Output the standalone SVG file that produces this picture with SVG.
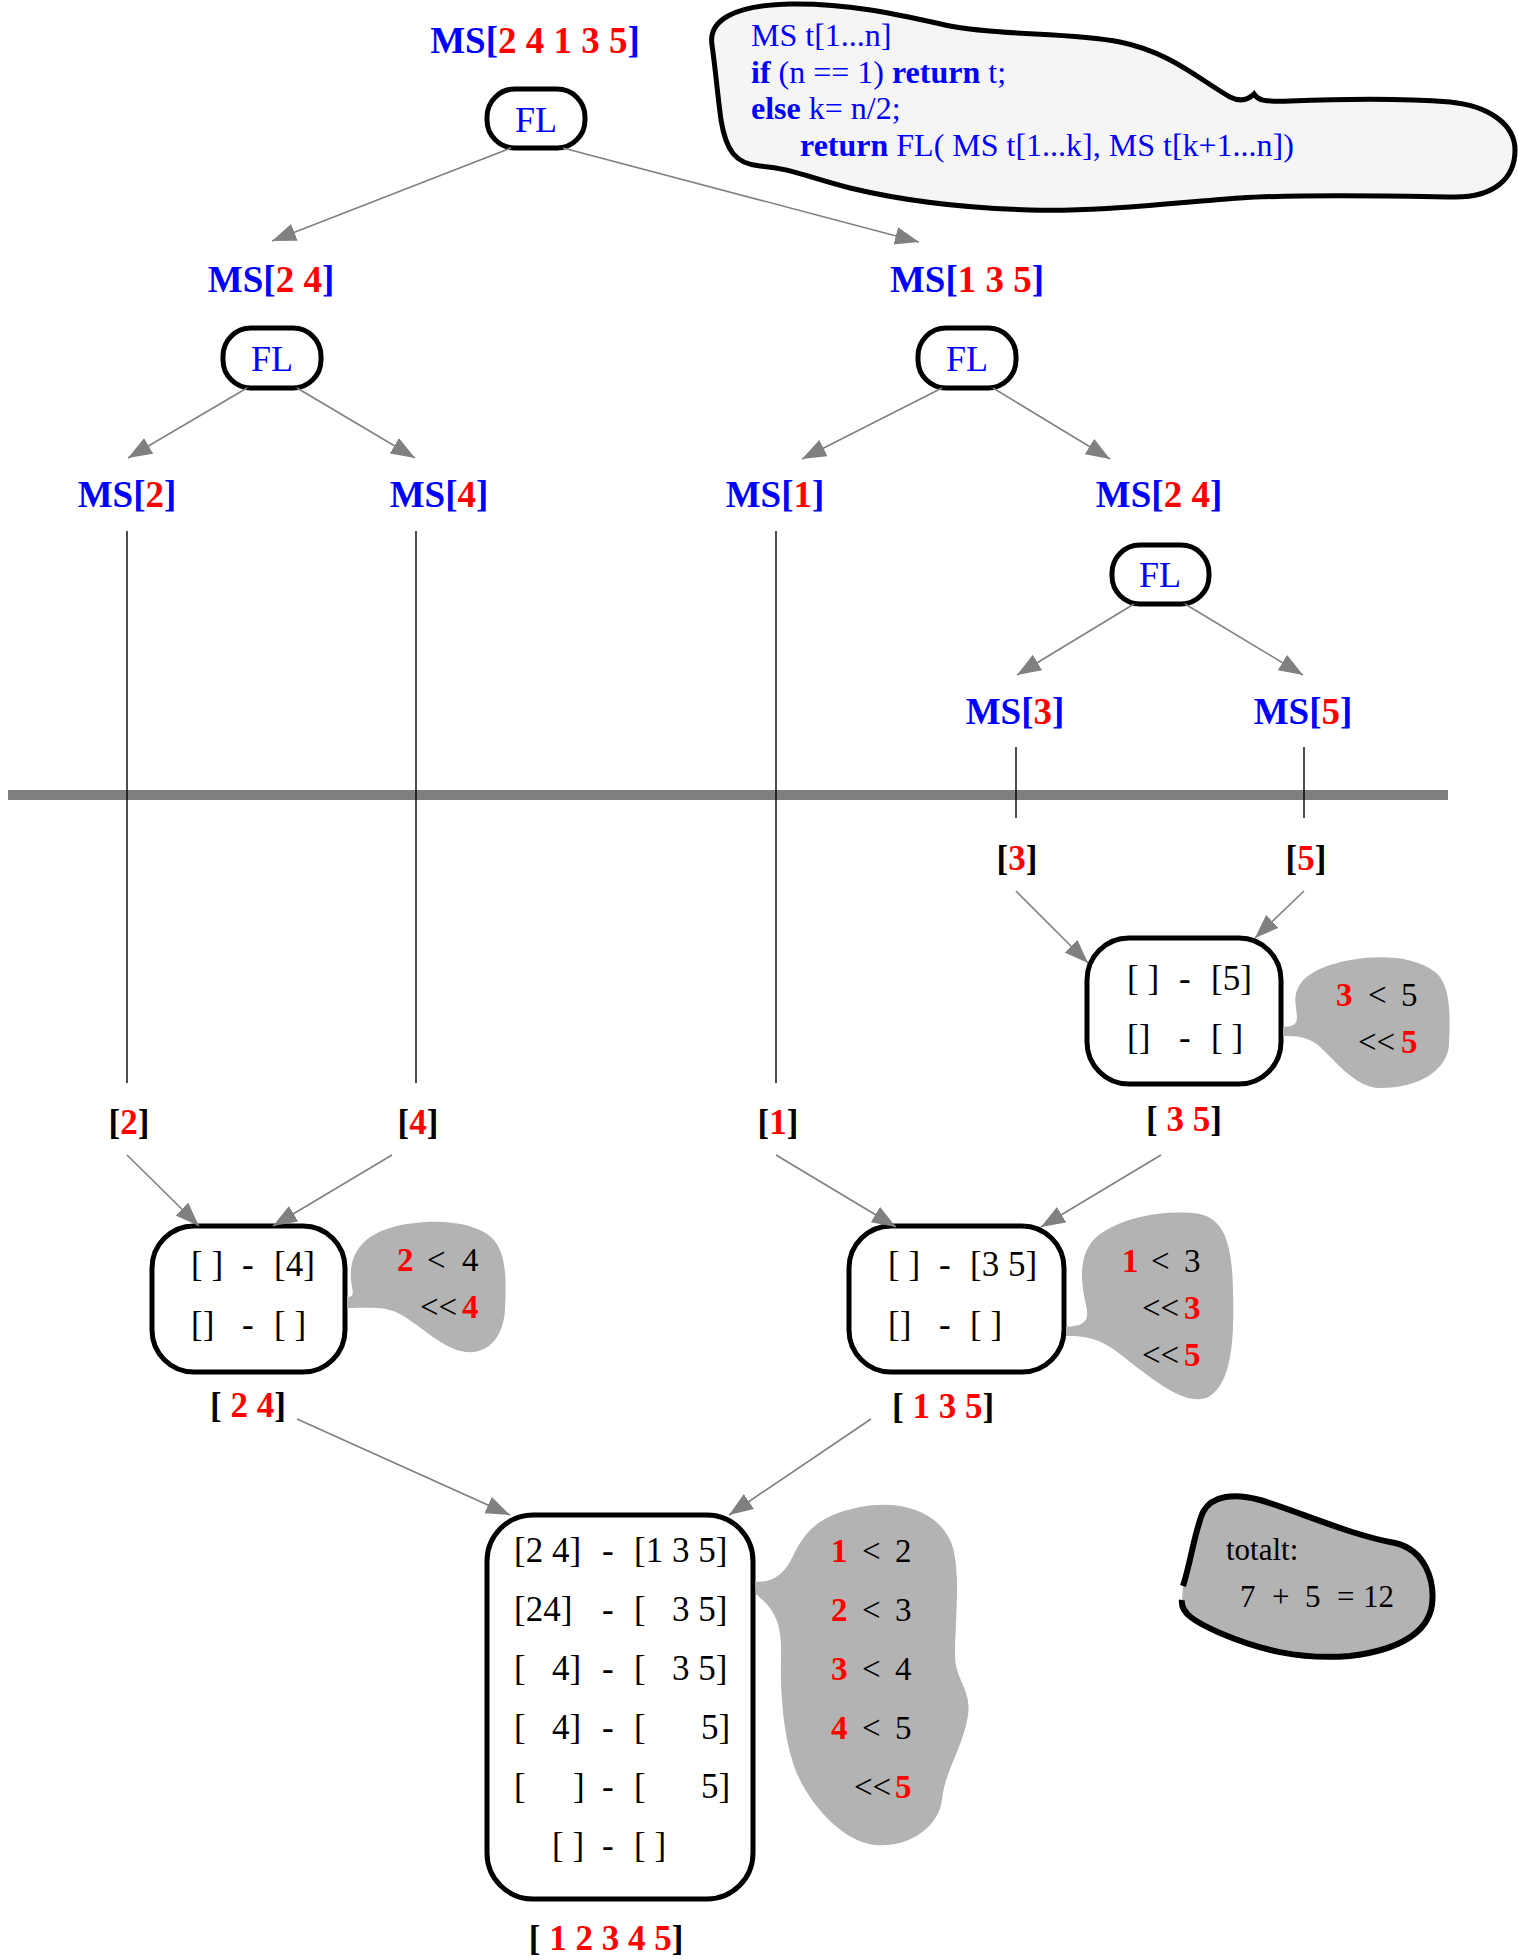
<svg xmlns="http://www.w3.org/2000/svg" width="1518" height="1960" viewBox="0 0 1518 1960">
<defs>
  <marker id="ah" markerUnits="userSpaceOnUse" markerWidth="26" markerHeight="20" refX="24" refY="9" orient="auto">
    <path d="M0,0 L24,9 L0,18 z" fill="#808080"/>
  </marker>
  <style>
    text{font-family:"Liberation Serif","Times New Roman",serif}
    .ms{font-size:37px;font-weight:bold;fill:#0000ff;text-anchor:middle}
    .r{fill:#ff0000}
    .fl{font-size:36px;fill:#0000ff;text-anchor:middle}
    .code{font-size:32px;fill:#0000ff}
    .b{font-weight:bold}
    .m{font-size:35px;fill:#000}
    .res{font-size:35px;font-weight:bold;fill:#000;text-anchor:middle}
    .cmp{font-size:33px;fill:#000}
    .cmp .r{font-weight:bold}
    .pill{fill:#fff;stroke:#000;stroke-width:5}
    .box{fill:#fff;stroke:#000;stroke-width:5}
    .blob{fill:#b3b3b3}
    .edge{stroke:#808080;stroke-width:1.6;fill:none;marker-end:url(#ah)}
    .v{stroke:#000;stroke-width:1.4}
  </style>
</defs>
<rect width="1518" height="1960" fill="#fff"/>

<!-- pseudo-code cloud -->
<g id="code">
  <path d="M712,45 C708,20 735,5 790,4 C850,3 900,15 950,26 C1000,36 1070,32 1120,42 C1170,52 1200,80 1230,97 C1240,102 1248,100 1254,94 C1258,100 1262,102 1290,101 C1340,99 1400,98 1450,102 C1490,106 1515,125 1515,150 C1515,178 1495,197 1455,197 C1390,196 1300,194 1240,198 C1170,203 1100,212 1030,210 C960,208 900,200 850,188 C810,178 790,168 760,166 C735,164 726,150 721,120 C717,90 715,65 712,45 Z" fill="#f5f5f5" stroke="#000" stroke-width="5"/>
  <text class="code" x="751" y="46">MS t[1...n]</text>
  <text class="code" x="751" y="83"><tspan class="b">if</tspan> (n == 1) <tspan class="b">return</tspan> t;</text>
  <text class="code" x="751" y="119"><tspan class="b">else</tspan> k= n/2;</text>
  <text class="code" x="800" y="156"><tspan class="b">return</tspan> FL( MS t[1...k], MS t[k+1...n])</text>
</g>

<!-- divider between splitting and merging -->
<line x1="8" y1="795" x2="1448" y2="795" stroke="#7f7f7f" stroke-width="10"/>

<!-- split tree -->
<g id="ms-24135"><text class="ms" x="535" y="53">MS[<tspan class="r">2 4 1 3 5</tspan>]</text></g>
<g id="fl-top"><rect class="pill" x="487" y="89" width="98" height="59" rx="28"/><text class="fl" x="536" y="132">FL</text></g>
<g id="ms-24"><text class="ms" x="271" y="292">MS[<tspan class="r">2 4</tspan>]</text></g>
<g id="ms-135"><text class="ms" x="967" y="292">MS[<tspan class="r">1 3 5</tspan>]</text></g>
<g id="fl-left"><rect class="pill" x="223" y="328" width="98" height="60" rx="28"/><text class="fl" x="272" y="371">FL</text></g>
<g id="fl-right"><rect class="pill" x="918" y="328" width="98" height="60" rx="28"/><text class="fl" x="967" y="371">FL</text></g>
<g id="ms-2"><text class="ms" x="127" y="507">MS[<tspan class="r">2</tspan>]</text></g>
<g id="ms-4"><text class="ms" x="439" y="507">MS[<tspan class="r">4</tspan>]</text></g>
<g id="ms-1"><text class="ms" x="775" y="507">MS[<tspan class="r">1</tspan>]</text></g>
<g id="ms-24b"><text class="ms" x="1159" y="507">MS[<tspan class="r">2 4</tspan>]</text></g>
<g id="fl-low"><rect class="pill" x="1112" y="545" width="97" height="59" rx="28"/><text class="fl" x="1160" y="587">FL</text></g>
<g id="ms-3"><text class="ms" x="1015" y="724">MS[<tspan class="r">3</tspan>]</text></g>
<g id="ms-5"><text class="ms" x="1303" y="724">MS[<tspan class="r">5</tspan>]</text></g>

<!-- single-element results -->
<g id="res-3"><text class="res" x="1017" y="870">[<tspan class="r">3</tspan>]</text></g>
<g id="res-5"><text class="res" x="1306" y="870">[<tspan class="r">5</tspan>]</text></g>
<g id="res-2"><text class="res" x="129" y="1134">[<tspan class="r">2</tspan>]</text></g>
<g id="res-4"><text class="res" x="418" y="1134">[<tspan class="r">4</tspan>]</text></g>
<g id="res-1"><text class="res" x="778" y="1134">[<tspan class="r">1</tspan>]</text></g>

<!-- merge [3] + [5] -->
<g id="merge-35">
  <rect class="box" x="1087" y="938" width="194" height="146" rx="42"/>
  <text class="m" y="990"><tspan x="1127">[ ]</tspan><tspan x="1179">-</tspan><tspan x="1211">[5]</tspan></text>
  <text class="m" y="1049"><tspan x="1127">[]</tspan><tspan x="1179">-</tspan><tspan x="1211">[ ]</tspan></text>
  <path class="blob" d="M1283,1027 C1298,1026 1298,1022 1296,1008 C1293,990 1300,975 1330,965 C1360,955 1410,952 1435,972 C1452,985 1450,1020 1449,1045 C1447,1070 1420,1088 1380,1088 C1355,1088 1335,1060 1318,1045 C1305,1036 1298,1036 1283,1036 Z"/>
  <text class="cmp" y="1006"><tspan class="r" x="1336">3</tspan><tspan x="1368">&lt;</tspan><tspan x="1401">5</tspan></text>
  <text class="cmp" y="1053"><tspan x="1358">&lt;&lt;</tspan><tspan class="r" x="1401">5</tspan></text>
  <text class="res" x="1184" y="1131">[ <tspan class="r">3 5</tspan>]</text>
</g>

<!-- merge [2] + [4] -->
<g id="merge-24">
  <rect class="box" x="152" y="1226" width="193" height="146" rx="42"/>
  <text class="m" y="1276"><tspan x="191">[ ]</tspan><tspan x="242">-</tspan><tspan x="274">[4]</tspan></text>
  <text class="m" y="1336"><tspan x="191">[]</tspan><tspan x="242">-</tspan><tspan x="274">[ ]</tspan></text>
  <path class="blob" d="M347,1297 C356,1297 352,1290 351,1280 C349,1255 362,1236 390,1228 C420,1219 470,1218 492,1238 C508,1254 506,1285 505,1310 C503,1338 488,1354 466,1352 C444,1350 420,1325 400,1314 C385,1306 370,1308 347,1308 Z"/>
  <text class="cmp" y="1271"><tspan class="r" x="397">2</tspan><tspan x="427">&lt;</tspan><tspan x="462">4</tspan></text>
  <text class="cmp" y="1318"><tspan x="420">&lt;&lt;</tspan><tspan class="r" x="462">4</tspan></text>
  <text class="res" x="248" y="1417">[ <tspan class="r">2 4</tspan>]</text>
</g>

<!-- merge [1] + [3 5] -->
<g id="merge-135">
  <rect class="box" x="849" y="1226" width="215" height="146" rx="42"/>
  <text class="m" y="1276"><tspan x="888">[ ]</tspan><tspan x="939">-</tspan><tspan x="970">[3 5]</tspan></text>
  <text class="m" y="1336"><tspan x="888">[]</tspan><tspan x="939">-</tspan><tspan x="970">[ ]</tspan></text>
  <path class="blob" d="M1066,1327 C1084,1326 1090,1322 1086,1305 C1080,1280 1078,1250 1100,1234 C1130,1214 1170,1210 1200,1214 C1225,1220 1232,1245 1233,1290 C1234,1330 1234,1380 1210,1396 C1190,1408 1160,1385 1130,1362 C1110,1345 1095,1335 1066,1336 Z"/>
  <text class="cmp" y="1272"><tspan class="r" x="1122">1</tspan><tspan x="1151">&lt;</tspan><tspan x="1184">3</tspan></text>
  <text class="cmp" y="1319"><tspan x="1142">&lt;&lt;</tspan><tspan class="r" x="1184">3</tspan></text>
  <text class="cmp" y="1366"><tspan x="1142">&lt;&lt;</tspan><tspan class="r" x="1184">5</tspan></text>
  <text class="res" x="943" y="1418">[ <tspan class="r">1 3 5</tspan>]</text>
</g>

<!-- final merge -->
<g id="merge-final">
  <rect class="box" x="487" y="1515" width="266" height="384" rx="46"/>
  <text class="m" y="1562"><tspan x="514">[2 4]</tspan><tspan x="602">-</tspan><tspan x="634">[1 3 5]</tspan></text>
  <text class="m" y="1621"><tspan x="514">[24]</tspan><tspan x="602">-</tspan><tspan x="634">[</tspan><tspan x="672">3 5]</tspan></text>
  <text class="m" y="1680"><tspan x="514">[</tspan><tspan x="552">4]</tspan><tspan x="602">-</tspan><tspan x="634">[</tspan><tspan x="672">3 5]</tspan></text>
  <text class="m" y="1739"><tspan x="514">[</tspan><tspan x="552">4]</tspan><tspan x="602">-</tspan><tspan x="634">[</tspan><tspan x="701">5]</tspan></text>
  <text class="m" y="1798"><tspan x="514">[</tspan><tspan x="573">]</tspan><tspan x="602">-</tspan><tspan x="634">[</tspan><tspan x="701">5]</tspan></text>
  <text class="m" y="1857"><tspan x="552">[ ]</tspan><tspan x="602">-</tspan><tspan x="634">[ ]</tspan></text>
  <path class="blob" d="M755,1582 C770,1582 782,1578 792,1558 C805,1530 820,1515 860,1507 C900,1500 935,1510 950,1540 C962,1565 955,1620 955,1655 C955,1680 972,1690 968,1715 C964,1745 945,1770 942,1800 C938,1830 905,1848 875,1845 C845,1842 815,1810 800,1780 C785,1750 780,1700 781,1660 C782,1630 778,1620 770,1608 C764,1600 760,1598 756,1594 Z"/>
  <text class="cmp" y="1562"><tspan class="r" x="831">1</tspan><tspan x="862">&lt;</tspan><tspan x="895">2</tspan></text>
  <text class="cmp" y="1621"><tspan class="r" x="831">2</tspan><tspan x="862">&lt;</tspan><tspan x="895">3</tspan></text>
  <text class="cmp" y="1680"><tspan class="r" x="831">3</tspan><tspan x="862">&lt;</tspan><tspan x="895">4</tspan></text>
  <text class="cmp" y="1739"><tspan class="r" x="831">4</tspan><tspan x="862">&lt;</tspan><tspan x="895">5</tspan></text>
  <text class="cmp" y="1798"><tspan x="854">&lt;&lt;</tspan><tspan class="r" x="895">5</tspan></text>
  <text class="res" x="606" y="1950">[ <tspan class="r">1 2 3 4 5</tspan>]</text>
</g>

<!-- comparison count -->
<g id="total">
  <path d="M1183,1586 C1190,1565 1195,1530 1203,1512 C1212,1495 1235,1493 1260,1500 C1300,1512 1350,1535 1395,1543 C1425,1550 1435,1580 1432,1605 C1428,1632 1400,1650 1350,1656 C1300,1660 1260,1650 1220,1633 C1195,1622 1180,1613 1182,1600" fill="#b3b3b3" stroke="#000" stroke-width="6"/>
  <text class="cmp" x="1226" y="1560" style="font-size:31px">totalt:</text>
  <text class="cmp" y="1607" style="font-size:31px"><tspan x="1240">7</tspan><tspan x="1272">+</tspan><tspan x="1305">5</tspan><tspan x="1337">=</tspan><tspan x="1363">12</tspan></text>
</g>

<!-- connectors -->
<g id="connectors">
  <line class="edge" x1="511" y1="148" x2="272" y2="241"/>
  <line class="edge" x1="563" y1="148" x2="919" y2="242"/>
  <line class="edge" x1="247" y1="388" x2="128" y2="458"/>
  <line class="edge" x1="297" y1="388" x2="415" y2="458"/>
  <line class="edge" x1="942" y1="388" x2="802" y2="459"/>
  <line class="edge" x1="993" y1="388" x2="1110" y2="459"/>
  <line class="edge" x1="1134" y1="604" x2="1017" y2="675"/>
  <line class="edge" x1="1185" y1="604" x2="1303" y2="675"/>
  <line class="v" x1="127" y1="531" x2="127" y2="1083"/>
  <line class="v" x1="416" y1="531" x2="416" y2="1083"/>
  <line class="v" x1="776" y1="531" x2="776" y2="1083"/>
  <line class="v" x1="1016" y1="747" x2="1016" y2="818"/>
  <line class="v" x1="1304" y1="747" x2="1304" y2="818"/>
  <line class="edge" x1="1016" y1="891" x2="1088" y2="963"/>
  <line class="edge" x1="1304" y1="891" x2="1255" y2="938"/>
  <line class="edge" x1="127" y1="1155" x2="199" y2="1226"/>
  <line class="edge" x1="392" y1="1155" x2="273" y2="1226"/>
  <line class="edge" x1="776" y1="1155" x2="896" y2="1227"/>
  <line class="edge" x1="1161" y1="1155" x2="1041" y2="1227"/>
  <line class="edge" x1="297" y1="1419" x2="510" y2="1515"/>
  <line class="edge" x1="871" y1="1419" x2="729" y2="1515"/>
</g>
</svg>
